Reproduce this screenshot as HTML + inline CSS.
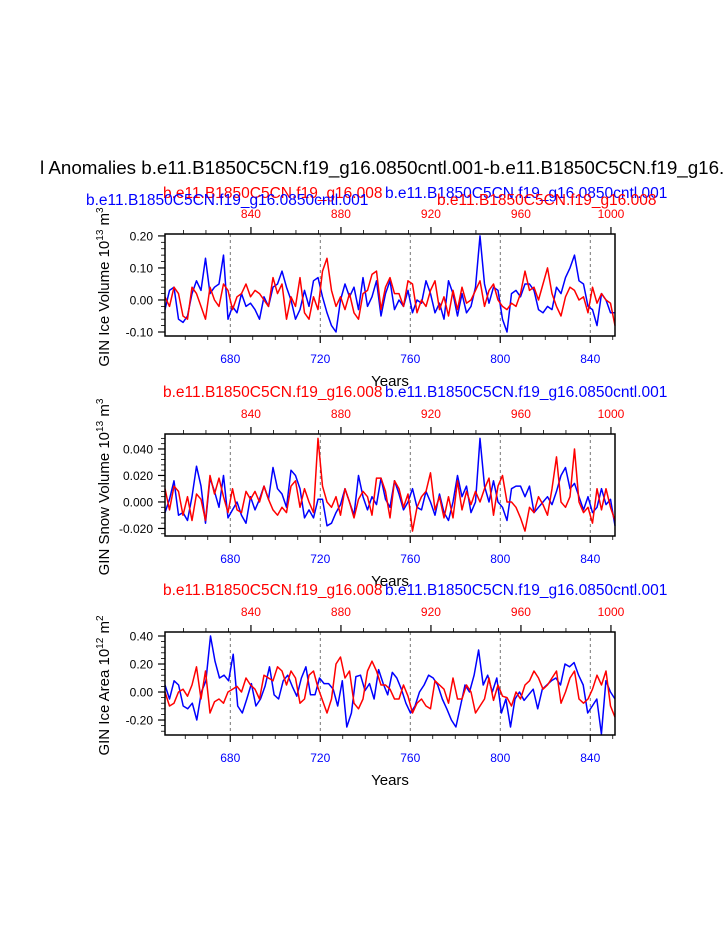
<!DOCTYPE html>
<html><head><meta charset="utf-8"><style>
body{margin:0;background:#fff}
svg{display:block}
text{font-family:"Liberation Sans",Arial,sans-serif}
</style></head><body>
<svg id="chart" width="723" height="935" viewBox="0 0 723 935" xmlns="http://www.w3.org/2000/svg">
<text x="40" y="174" font-size="18.8" fill="#000">l Anomalies b.e11.B1850C5CN.f19_g16.0850cntl.001-b.e11.B1850C5CN.f19_g16.</text>
</svg>
<script>
const years0 = 651, years1 = 851;
const redOffset = 150.8;
const blueTicks = [680, 720, 760, 800, 840];
const redTicks = [840, 880, 920, 960, 1000];
const iceVolBlue = [-0.03,0.03,0.04,-0.06,-0.07,-0.05,0.02,0.06,0.03,0.13,0.02,0.04,0.05,0.14,-0.06,-0.02,-0.04,0.02,-0.02,-0.01,-0.03,-0.06,0.01,-0.02,0.04,0.05,0.09,0.04,0.00,-0.06,-0.03,0.03,-0.02,0.06,0.07,0.01,-0.04,-0.08,-0.10,0.00,0.05,0.01,0.04,-0.03,0.07,-0.02,0.01,0.06,-0.05,0.02,0.06,-0.03,0.00,-0.02,0.03,-0.04,0.00,-0.01,0.06,0.02,-0.04,-0.01,-0.06,0.06,0.02,-0.05,0.02,-0.04,-0.02,0.04,0.20,0.05,-0.01,0.04,0.03,-0.06,-0.10,0.02,0.03,0.01,0.05,0.05,0.03,-0.03,-0.04,-0.02,-0.03,0.04,0.02,0.07,0.10,0.14,0.06,0.05,-0.02,-0.03,-0.08,0.02,0.00,-0.04,-0.04];
const iceVolRed = [0.01,-0.02,0.04,0.02,-0.05,-0.06,0.04,0.02,-0.02,-0.06,0.04,0.00,-0.02,0.05,0.03,-0.03,0.01,0.02,0.05,0.01,0.03,0.02,0.00,-0.02,0.07,0.02,0.05,-0.06,0.01,-0.02,0.07,-0.04,-0.06,0.01,-0.03,0.09,0.13,0.03,-0.02,0.01,-0.03,0.02,-0.04,-0.06,0.02,0.03,0.08,0.09,-0.03,0.04,0.07,0.02,0.02,-0.02,0.06,0.05,-0.04,0.00,-0.02,0.03,0.06,-0.03,0.01,-0.05,0.03,-0.03,0.04,-0.01,0.00,0.03,0.06,-0.02,0.03,0.05,0.00,-0.02,-0.03,-0.01,-0.02,0.02,0.09,0.03,0.04,0.00,0.05,0.10,0.02,-0.02,-0.05,0.01,0.04,0.03,0.00,0.01,-0.04,0.04,-0.01,0.02,0.00,-0.01,-0.08];
const snowBlue = [-0.008,0.002,0.016,-0.010,-0.008,-0.014,0.004,0.027,0.012,-0.016,0.018,0.008,-0.004,0.020,-0.012,-0.006,0.000,-0.010,-0.016,0.004,-0.006,0.002,0.012,0.002,0.026,0.010,0.006,-0.004,0.024,0.020,0.010,-0.012,-0.006,-0.012,0.002,0.002,-0.018,-0.016,-0.008,-0.002,0.010,0.000,-0.010,0.020,0.004,-0.006,0.004,-0.002,0.018,0.002,-0.004,0.016,0.006,-0.006,0.000,0.010,-0.004,-0.006,0.008,0.000,-0.010,0.006,-0.008,-0.014,0.000,0.020,0.004,0.012,-0.008,0.000,0.048,0.012,0.000,0.016,0.000,-0.004,-0.014,0.010,0.012,0.012,0.004,0.012,-0.008,-0.004,0.000,0.004,-0.002,0.008,0.020,0.026,0.010,0.014,0.004,-0.006,0.004,-0.008,-0.004,0.010,-0.002,0.002,-0.018];
const snowRed = [0.010,-0.006,0.012,0.008,-0.010,0.004,-0.014,0.006,0.002,-0.014,0.020,0.006,0.018,0.004,-0.008,0.010,-0.006,-0.008,0.008,0.002,0.008,0.000,0.012,0.002,-0.006,-0.010,-0.004,-0.008,0.012,0.016,-0.004,0.010,0.000,-0.008,0.048,0.012,0.000,-0.004,0.004,-0.010,0.010,0.000,-0.012,0.002,0.008,0.004,-0.010,0.018,0.018,0.008,-0.012,0.016,0.010,-0.004,0.006,-0.022,-0.004,0.004,0.008,0.022,-0.006,0.004,-0.012,0.004,-0.012,0.016,-0.006,0.008,-0.002,0.008,0.000,0.010,0.018,-0.010,0.012,0.020,0.000,0.000,-0.004,-0.012,-0.022,-0.004,-0.008,0.004,-0.002,-0.010,0.010,0.034,0.000,-0.004,0.004,0.040,0.000,-0.008,-0.004,-0.016,0.010,-0.006,0.010,-0.004,-0.014];
const areaBlue = [0.05,-0.05,0.08,0.05,-0.10,-0.12,-0.08,-0.20,0.00,0.08,0.40,0.22,0.10,0.12,0.08,0.27,-0.10,-0.15,-0.05,0.06,-0.10,-0.05,0.04,0.18,-0.02,-0.05,0.08,0.12,0.04,-0.03,0.10,0.18,-0.02,-0.02,0.10,0.06,0.06,0.02,-0.10,0.08,-0.25,-0.15,0.11,0.12,0.01,0.06,-0.05,0.16,0.06,-0.02,0.14,0.10,0.02,-0.08,-0.15,-0.10,0.00,0.05,0.12,0.10,0.05,-0.05,-0.12,-0.20,-0.25,-0.10,0.05,0.00,0.12,0.30,0.05,0.12,0.00,0.10,-0.15,-0.05,-0.25,-0.05,0.00,-0.06,-0.02,0.02,-0.12,0.02,0.05,0.08,0.10,0.05,0.20,0.18,0.21,0.12,0.05,-0.15,-0.10,-0.05,-0.30,0.08,0.00,-0.05];
const areaRed = [0.00,-0.10,-0.08,0.00,0.02,-0.03,0.05,0.18,-0.05,0.15,-0.15,-0.07,-0.05,-0.08,0.00,0.02,0.04,0.00,0.10,0.05,0.02,-0.05,0.12,0.10,0.08,0.18,0.15,0.05,0.15,0.10,-0.08,-0.05,0.12,0.15,0.03,-0.06,-0.15,-0.05,0.20,0.25,0.10,0.15,-0.08,-0.12,-0.05,0.15,0.22,0.15,0.05,0.05,0.02,-0.05,-0.05,0.05,-0.03,-0.15,-0.08,-0.05,-0.10,-0.12,0.08,0.05,0.02,-0.08,0.10,-0.05,-0.05,0.05,0.00,-0.15,-0.10,-0.05,0.10,-0.06,0.05,-0.03,-0.04,-0.10,0.00,-0.05,0.05,0.08,0.15,0.10,0.02,0.05,0.10,0.15,-0.08,0.00,0.10,0.15,-0.05,-0.08,-0.05,0.02,0.12,0.05,0.15,-0.10,-0.18];
const volTicks = [-0.10, 0.00, 0.10, 0.20];
const volLabels = ["-0.10","0.00","0.10","0.20"];
const snowTicks = [-0.020, 0.000, 0.020, 0.040];
const snowLabels = ["-0.020","0.000","0.020","0.040"];
const areaTicks = [-0.20, 0.00, 0.20, 0.40];
const areaLabels = ["-0.20","0.00","0.20","0.40"];

const NS = "http://www.w3.org/2000/svg";
const svg = document.getElementById('chart');
const X0 = 165, X1 = 615;
function xScale(yr){ return X0 + (yr - years0) / (years1 - years0) * (X1 - X0); }
function mk(tag, attrs, parent){ const e = document.createElementNS(NS, tag); for (const k in attrs) e.setAttribute(k, attrs[k]); (parent||svg).appendChild(e); return e; }

const panels = [
 {key:'ice-volume', top:234, bot:336, vmin:-0.1125, vmax:0.206, minor:0.02, ticks:volTicks, labels:volLabels, blue:iceVolBlue, red:iceVolRed, title:['GIN Ice Volume 10','13',' m','3'], layout:1},
 {key:'snow-volume', top:434, bot:536, vmin:-0.0257, vmax:0.0513, minor:0.004, ticks:snowTicks, labels:snowLabels, blue:snowBlue, red:snowRed, title:['GIN Snow Volume 10','13',' m','3'], layout:2},
 {key:'ice-area', top:632, bot:735, vmin:-0.307, vmax:0.4286, minor:0.04, ticks:areaTicks, labels:areaLabels, blue:areaBlue, red:areaRed, title:['GIN Ice Area 10','12',' m','2'], layout:2}
];

panels.forEach(p => {
  const g = mk('g', {});
  
  
  const yS = v => p.bot - (v - p.vmin) / (p.vmax - p.vmin) * (p.bot - p.top);
  blueTicks.forEach(t => {
    const l = mk('line', {x1:xScale(t), x2:xScale(t), y1:p.top, y2:p.bot, stroke:'#555', 'stroke-width':0.8, 'stroke-dasharray':'3,3'}, g);
    
    
  });
  [['blue', p.blue, '#0000ff'], ['red', p.red, '#ff0000']].forEach(([nm, arr, col]) => {
    const n = arr.length;
    const pts = arr.map((v, i) => xScale(years0 + i * (years1 - years0) / (n - 1)).toFixed(1) + ',' + yS(v).toFixed(1)).join(' ');
    const pl = mk('polyline', {points:pts, fill:'none', stroke:col, 'stroke-width':1.5, 'stroke-linejoin':'round'}, g);
    
    
  });
  const r = mk('rect', {x:X0, y:p.top, width:X1 - X0, height:p.bot - p.top, fill:'none', stroke:'#000', 'stroke-width':1.5}, g);
  
  
  for (let yr = 660; yr <= years1; yr += 10) {
    const major = blueTicks.includes(yr);
    mk('line', {x1:xScale(yr), x2:xScale(yr), y1:p.bot, y2:p.bot + (major ? 7 : 4), stroke:'#000', 'stroke-width':major ? 1.2 : 0.8}, g);
  }
  blueTicks.forEach(t => {
    const tx = mk('text', {x:xScale(t), y:p.bot + 27, 'font-size':12, fill:'#0000ff', 'text-anchor':'middle'}, g);
    tx.textContent = t;
    
    
  });
  const xt = mk('text', {x:390, y:p.bot + 50, 'font-size':15, fill:'#000', 'text-anchor':'middle'}, g);
  xt.textContent = 'Years';
  
  
  for (let yr = 810; yr <= 1000; yr += 10) {
    const x = xScale(yr - redOffset);
    if (x < X0 - 0.5 || x > X1 + 0.5) continue;
    const major = redTicks.includes(yr);
    mk('line', {x1:x, x2:x, y1:p.top, y2:p.top - (major ? 7 : 4), stroke:'#000', 'stroke-width':major ? 1.2 : 0.8}, g);
  }
  redTicks.forEach(t => {
    const tx = mk('text', {x:xScale(t - redOffset), y:p.top - 16, 'font-size':12, fill:'#ff0000', 'text-anchor':'middle'}, g);
    tx.textContent = t;
    
    
  });
  const step = p.minor;
  for (let k = Math.ceil(p.vmin / step); k * step <= p.vmax + 1e-9; k++) {
    const v = k * step;
    const major = p.ticks.some(t => Math.abs(t - v) < step / 10);
    mk('line', {x1:X0, x2:X0 - (major ? 7 : 4), y1:yS(v), y2:yS(v), stroke:'#000', 'stroke-width':major ? 1.2 : 0.8}, g);
  }
  p.ticks.forEach((t, i) => {
    const tx = mk('text', {x:X0 - 12, y:yS(t) + 4.5, 'font-size':12, fill:'#000', 'text-anchor':'end'}, g);
    tx.textContent = p.labels[i];
    
    
  });
  const cy = (p.top + p.bot) / 2 + 2;
  const yt = mk('text', {x:0, y:0, 'font-size':15, fill:'#000', 'text-anchor':'middle', transform:'translate(109,' + cy + ') rotate(-90)'}, g);
  
  
  const s1 = mk('tspan', {}, yt); s1.textContent = p.title[0];
  const s2 = mk('tspan', {dy:-6, 'font-size':10}, yt); s2.textContent = p.title[1];
  const s3 = mk('tspan', {dy:6}, yt); s3.textContent = p.title[2];
  const s4 = mk('tspan', {dy:-6, 'font-size':10}, yt); s4.textContent = p.title[3];
  const titles = p.layout === 1 ? [
    ['b.e11.B1850C5CN.f19_g16.008', 163, p.top - 36, '#ff0000'],
    ['b.e11.B1850C5CN.f19_g16.0850cntl.001', 86, p.top - 29, '#0000ff'],
    ['b.e11.B1850C5CN.f19_g16.0850cntl.001', 385, p.top - 36, '#0000ff'],
    ['b.e11.B1850C5CN.f19_g16.008', 437, p.top - 29, '#ff0000']
  ] : [
    ['b.e11.B1850C5CN.f19_g16.008', 163, p.top - 37, '#ff0000'],
    ['b.e11.B1850C5CN.f19_g16.0850cntl.001', 385, p.top - 37, '#0000ff']
  ];
  titles.forEach(([t, x, y, c]) => {
    const tx = mk('text', {x:x, y:y, 'font-size':15.5, fill:c}, g);
    tx.textContent = t;
    
    
  });
});
</script>
</body></html>
